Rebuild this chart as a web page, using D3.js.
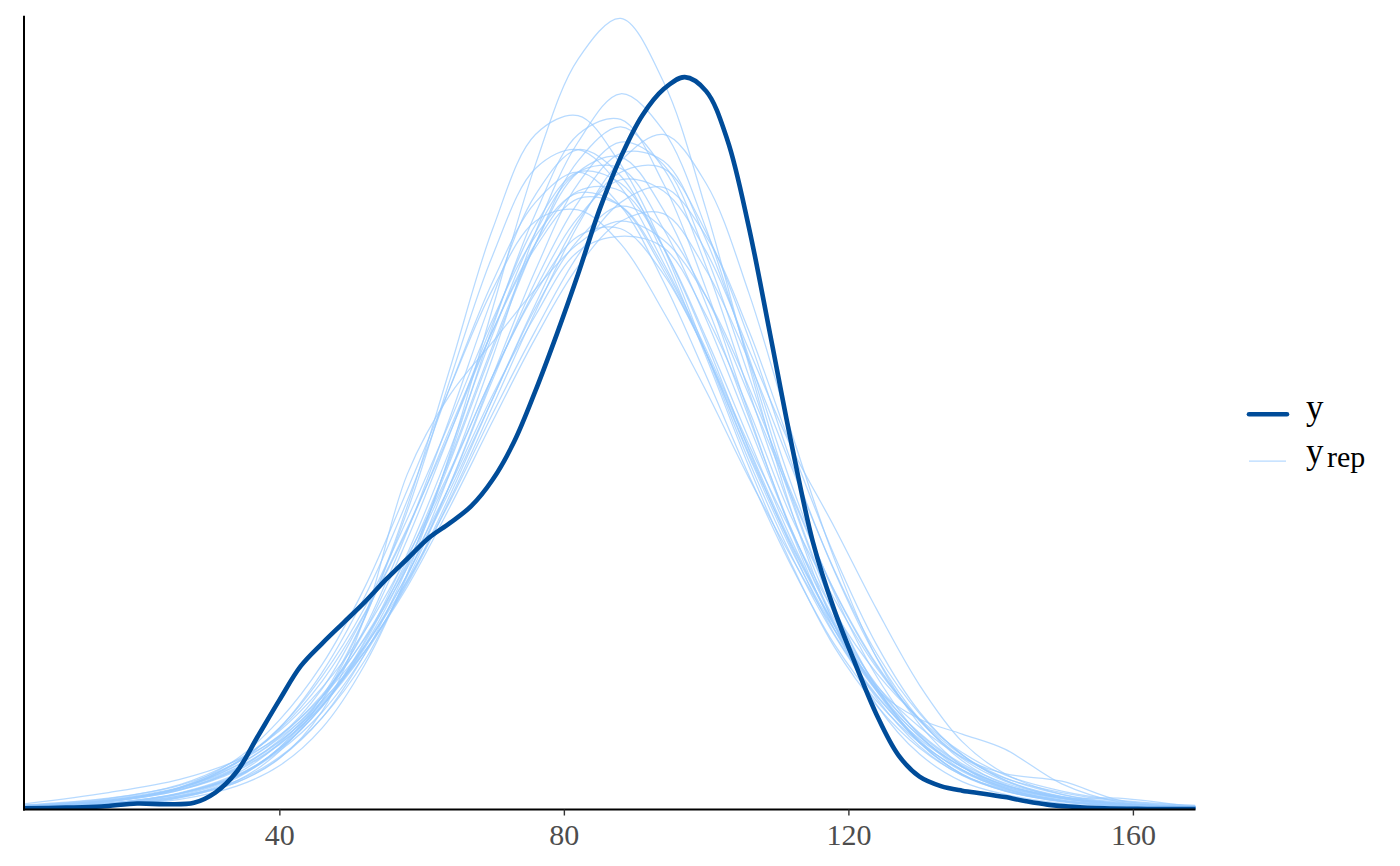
<!DOCTYPE html>
<html>
<head>
<meta charset="utf-8">
<script src="https://cdn.jsdelivr.net/npm/d3@7"></script>
<style>
  html, body { margin: 0; padding: 0; background: #fff; }
  svg { display: block; }
</style>
</head>
<body>
<div id="chart"></div>
<script>
// density overlay: observed y (dark) against replicated draws y_rep (light)

// shared evaluation grid for the y_rep densities
const xGrid = [4.1, 16, 26, 34, 40, 46, 52, 58, 64, 70, 76, 82, 88, 94, 100, 106, 112, 118, 124, 130, 136, 142, 150, 158, 168.8];

const yrep01 = [0.03, 0.10, 0.27, 0.62, 1.16, 2.16, 3.84, 6.26, 9.45, 13.3, 17.1, 19.9, 20.98, 19.3, 15.9, 11.8, 7.92, 4.91, 2.77, 1.47, 0.74, 0.40, 0.16, 0.07, 0.03];
const yrep02 = [0.05, 0.14, 0.34, 0.76, 1.39, 2.43, 3.95, 6.19, 8.93, 12.0, 15.3, 17.7, 18.98, 18.0, 15.4, 11.9, 8.28, 5.36, 3.23, 1.77, 0.93, 0.49, 0.21, 0.09, 0.03];
const yrep03 = [0.03, 0.10, 0.31, 0.76, 1.54, 2.90, 5.07, 8.05, 11.7, 15.4, 17.9, 18.4, 17.1, 14.9, 12.1, 9.25, 6.73, 4.63, 3.00, 1.87, 1.13, 0.65, 0.33, 0.16, 0.07];
const yrep04 = [0.04, 0.12, 0.32, 0.72, 1.36, 2.43, 4.12, 6.44, 9.38, 12.8, 15.8, 17.9, 18.3, 16.6, 13.8, 10.5, 7.36, 4.78, 2.94, 1.68, 0.90, 0.49, 0.22, 0.10, 0.04];
const yrep05 = [0.06, 0.17, 0.43, 0.91, 1.59, 2.72, 4.34, 6.50, 9.23, 12.2, 15.0, 17.2, 18.1, 17.0, 14.4, 11.1, 7.89, 5.18, 3.13, 1.77, 0.94, 0.51, 0.22, 0.10, 0.04];
const yrep06 = [0.04, 0.11, 0.33, 0.83, 1.64, 2.99, 5.10, 7.92, 11.4, 14.7, 17.0, 17.5, 16.5, 14.5, 12.2, 9.68, 7.36, 5.24, 3.61, 2.41, 1.51, 0.92, 0.49, 0.25, 0.11];
const yrep07 = [0.10, 0.25, 0.57, 1.11, 1.81, 2.81, 4.19, 5.98, 8.23, 10.7, 13.2, 15.5, 17.2, 17.9, 16.6, 13.7, 10.0, 6.66, 4.01, 2.26, 1.15, 0.57, 0.23, 0.10, 0.03];
const yrep08 = [0.08, 0.21, 0.51, 1.02, 1.72, 2.76, 4.28, 6.23, 8.62, 11.4, 14.0, 16.1, 17.4, 17.2, 15.1, 12.0, 8.62, 5.74, 3.52, 1.97, 1.05, 0.54, 0.23, 0.10, 0.04];
const yrep09 = [0.06, 0.16, 0.42, 0.89, 1.62, 2.73, 4.42, 6.65, 9.31, 12.3, 15.0, 16.9, 17.3, 15.9, 13.4, 10.4, 7.43, 4.98, 3.15, 1.83, 1.01, 0.56, 0.25, 0.12, 0.05];
const yrep10 = [0.09, 0.22, 0.53, 1.05, 1.74, 2.75, 4.18, 6.02, 8.34, 10.9, 13.4, 15.6, 16.9, 17.0, 15.3, 12.5, 9.20, 6.33, 4.02, 2.39, 1.29, 0.67, 0.30, 0.13, 0.05];
const yrep11 = [0.05, 0.15, 0.40, 0.88, 1.60, 2.75, 4.47, 6.79, 9.55, 12.6, 15.3, 16.9, 17.0, 15.4, 13.0, 10.2, 7.41, 5.06, 3.30, 2.00, 1.17, 0.64, 0.31, 0.15, 0.06];
const yrep12 = [0.07, 0.21, 0.56, 1.23, 2.16, 3.63, 5.64, 8.20, 11.2, 14.0, 16.1, 16.9, 16.0, 14.0, 11.5, 8.87, 6.45, 4.39, 2.87, 1.77, 1.05, 0.60, 0.30, 0.15, 0.06];
const yrep13 = [0.08, 0.24, 0.58, 1.25, 2.12, 3.40, 5.21, 7.47, 10.0, 12.7, 15.0, 16.4, 16.4, 14.9, 12.5, 9.83, 7.15, 4.88, 3.19, 1.93, 1.13, 0.61, 0.30, 0.14, 0.06];
const yrep14 = [0.12, 0.30, 0.64, 1.24, 1.96, 2.99, 4.34, 6.07, 8.17, 10.5, 12.7, 14.7, 16.1, 16.5, 15.2, 12.7, 9.60, 6.75, 4.36, 2.59, 1.45, 0.78, 0.33, 0.30, 0.06];
const yrep15 = [0.08, 0.23, 0.57, 1.26, 2.16, 3.53, 5.35, 7.71, 10.3, 13.0, 15.2, 16.35, 16.0, 14.3, 12.1, 9.45, 7.00, 4.89, 3.23, 2.03, 1.21, 0.70, 0.34, 0.17, 0.07];
const yrep16 = [0.08, 0.22, 0.59, 1.34, 2.37, 3.84, 5.89, 8.48, 11.2, 13.8, 15.6, 15.9, 15.0, 13.2, 11.1, 8.80, 6.69, 4.77, 3.28, 2.19, 1.38, 0.83, 0.45, 0.22, 0.10];
const yrep17 = [0.08, 0.22, 0.53, 1.09, 1.79, 2.85, 4.32, 6.24, 8.48, 10.9, 13.3, 15.1, 16.0, 15.4, 13.6, 11.0, 8.32, 5.82, 3.84, 2.37, 1.39, 0.95, 0.75, 0.25, 0.06];
const yrep18 = [0.10, 0.27, 0.59, 1.16, 1.89, 2.88, 4.20, 5.91, 8.03, 10.3, 12.5, 14.4, 15.6, 15.8, 14.3, 11.9, 9.08, 6.36, 4.13, 2.54, 1.45, 0.78, 0.35, 0.15, 0.06];
const yrep19 = [0.09, 0.24, 0.56, 1.17, 1.92, 3.04, 4.53, 6.41, 8.60, 11.0, 13.1, 14.8, 15.2, 14.9, 13.1, 10.6, 7.75, 5.59, 3.75, 2.39, 1.44, 0.84, 0.40, 0.19, 0.08];
const yrep20 = [0.08, 0.20, 0.51, 1.07, 1.84, 2.98, 4.56, 6.54, 8.93, 11.5, 13.7, 15.2, 15.4, 14.2, 12.1, 9.58, 7.05, 4.93, 3.18, 2.40, 2.00, 1.60, 0.68, 0.20, 0.06];
const yrep21 = [0.15, 0.45, 0.80, 1.30, 1.95, 3.20, 5.18, 7.42, 10.1, 12.7, 14.9, 16.2, 16.0, 14.4, 12.1, 9.39, 6.88, 4.79, 3.13, 1.94, 1.12, 0.64, 0.31, 0.15, 0.06];
const yrep22 = [0.06, 0.16, 0.36, 0.72, 1.35, 2.60, 5.10, 8.90, 11.0, 12.4, 13.8, 15.0, 15.6, 15.1, 13.6, 11.2, 8.40, 5.80, 3.80, 2.35, 1.35, 0.75, 0.33, 0.14, 0.06];
const yrep23 = [0.11, 0.29, 0.66, 1.31, 2.08, 3.23, 4.74, 6.72, 8.99, 11.5, 13.8, 15.7, 16.7, 16.4, 14.8, 12.2, 9.60, 7.50, 5.30, 3.30, 1.80, 0.95, 0.40, 0.16, 0.06];
const yrep24 = [0.06, 0.16, 0.44, 0.95, 1.75, 2.98, 4.73, 7.17, 9.98, 12.9, 15.5, 16.9, 16.6, 14.9, 12.4, 9.54, 6.95, 4.66, 3.03, 1.80, 1.04, 0.58, 0.28, 0.13, 0.05];
const yrep25 = [0.07, 0.17, 0.43, 0.87, 1.55, 2.58, 4.11, 6.09, 8.63, 11.5, 14.3, 16.6, 17.7, 17.1, 14.7, 11.5, 8.19, 5.30, 3.22, 1.80, 0.93, 0.50, 0.21, 0.09, 0.03];
const yrep26 = [0.04, 0.13, 0.37, 0.86, 1.63, 2.89, 4.80, 7.39, 10.4, 13.6, 16.3, 17.5, 16.8, 14.7, 12.0, 9.10, 6.51, 4.32, 2.75, 1.63, 0.91, 0.53, 0.25, 0.12, 0.05];

const yrepSeries = [yrep01, yrep02, yrep03, yrep04, yrep05, yrep06, yrep07, yrep08, yrep09, yrep10,
    yrep11, yrep12, yrep13, yrep14, yrep15, yrep16, yrep17, yrep18, yrep19, yrep20,
    yrep21, yrep22, yrep23, yrep24, yrep25, yrep26];

// observed data density
const yObsX = [4.1, 10, 15, 20, 24, 28, 31, 34, 37, 40, 43, 46, 49, 52, 55, 58, 61, 64, 67, 70, 73, 76, 79, 82, 85, 88, 91, 94, 97, 100, 103, 106, 109, 112, 115, 118, 121, 124, 127, 130, 133, 136, 139, 142, 145, 148, 151, 156, 162, 168.8];
const yObs = [0.03, 0.05, 0.08, 0.16, 0.14, 0.18, 0.45, 1.00, 1.95, 2.90, 3.80, 4.40, 4.95, 5.50, 6.10, 6.65, 7.20, 7.60, 8.05, 8.75, 9.75, 11.1, 12.6, 14.2, 15.9, 17.3, 18.4, 19.1, 19.42, 19.05, 17.75, 15.45, 12.6, 9.70, 7.10, 5.30, 3.85, 2.50, 1.45, 0.87, 0.62, 0.50, 0.42, 0.33, 0.22, 0.13, 0.08, 0.03, 0.015, 0.01];

const xTicks = [40, 80, 120, 160];
const legendLabels = ['y', 'y_rep'];

const width = 1400;
const height = 866;
const plot = { left: 24, right: 1195.5, top: 15.7, bottom: 809.5 };
const serif = '"Liberation Serif", "Times New Roman", serif';
const darkBlue = '#004c99';
const lightBlue = '#99cbff';

const svg = d3.select('#chart')
    .append('svg')
    .attr('width', width)
    .attr('height', height)
    .style('background', '#fff');

const x = d3.scaleLinear().domain([4.1, 168.8]).range([plot.left, plot.right]);
const y = d3.scaleLinear().domain([0, 21.05]).range([plot.bottom, plot.top]);

svg.append('defs').append('clipPath')
    .attr('id', 'panel-clip')
    .append('rect')
    .attr('x', plot.left)
    .attr('y', plot.top - 1)
    .attr('width', plot.right - plot.left)
    .attr('height', plot.bottom - plot.top + 1);

const line = d3.line()
    .x(d => x(d[0]))
    .y(d => y(d[1]))
    .curve(d3.curveCatmullRom.alpha(0.5));

const panel = svg.append('g').attr('clip-path', 'url(#panel-clip)');

// replicated densities
panel.append('g')
    .selectAll('path')
    .data(yrepSeries)
    .enter()
    .append('path')
    .attr('d', vals => line(vals.map((v, i) => [xGrid[i], v])))
    .attr('fill', 'none')
    .attr('stroke', lightBlue)
    .attr('stroke-opacity', 0.7)
    .attr('stroke-width', 1.25);

// observed density on top
panel.append('path')
    .datum(yObs.map((v, i) => [yObsX[i], v]))
    .attr('d', line)
    .attr('fill', 'none')
    .attr('stroke', darkBlue)
    .attr('stroke-width', 4.6)
    .attr('stroke-linecap', 'round')
    .attr('stroke-linejoin', 'round');

// x axis
const xAxis = d3.axisBottom(x)
    .tickValues(xTicks)
    .tickFormat(d3.format('d'))
    .tickSize(6)
    .tickSizeOuter(0);

const gx = svg.append('g')
    .attr('transform', `translate(0,${plot.bottom})`)
    .call(xAxis);

gx.select('.domain')
    .attr('d', `M${plot.left - 1},0H${plot.right}`)
    .attr('stroke', '#000')
    .attr('stroke-width', 2);
gx.selectAll('.tick line')
    .attr('stroke', '#333')
    .attr('stroke-width', 1.4);
gx.selectAll('.tick text')
    .attr('y', 35.5)
    .attr('dy', null)
    .attr('fill', '#4d4d4d')
    .style('font-family', serif)
    .style('font-size', '30px');

// y axis (no ticks)
svg.append('line')
    .attr('x1', plot.left).attr('x2', plot.left)
    .attr('y1', plot.top).attr('y2', plot.bottom + 1)
    .attr('stroke', '#000')
    .attr('stroke-width', 2);

// legend
const legend = svg.append('g');
legend.append('line')
    .attr('x1', 1249).attr('x2', 1287)
    .attr('y1', 414.3).attr('y2', 414.3)
    .attr('stroke', darkBlue)
    .attr('stroke-width', 4.6)
    .attr('stroke-linecap', 'round');
legend.append('line')
    .attr('x1', 1249).attr('x2', 1286)
    .attr('y1', 461).attr('y2', 461)
    .attr('stroke', lightBlue)
    .attr('stroke-opacity', 0.7)
    .attr('stroke-width', 1.25);

legend.append('text')
    .attr('x', 1306)
    .attr('y', 419.4)
    .style('font-family', serif)
    .style('font-size', '35px')
    .attr('fill', '#000')
    .text(legendLabels[0]);

const repText = legend.append('text')
    .attr('x', 1306)
    .attr('y', 462.8)
    .style('font-family', serif)
    .style('font-size', '35px')
    .attr('fill', '#000');
const [base, sub] = legendLabels[1].split('_');
repText.append('tspan').text(base);
repText.append('tspan')
    .attr('x', 1327)
    .attr('y', 467)
    .style('font-family', serif)
    .style('font-size', '30px')
    .text(sub);
</script>
</body>
</html>
